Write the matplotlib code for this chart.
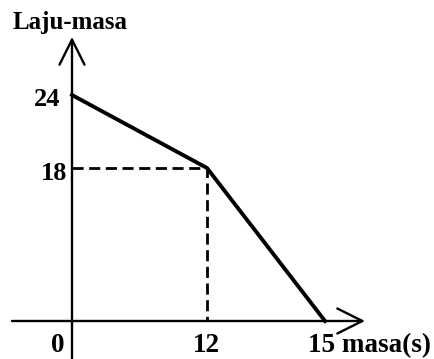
import numpy as np
import matplotlib
matplotlib.use("Agg")
import matplotlib.pyplot as plt

# values of the sketch
masa = [0, 12, 15]
laju = [24, 18, 0]
x_ticks = [0, 12, 15]
x_labels = ["0", "12", "15 masa(s)"]
y_ticks = [24, 18]
y_labels = ["24", "18"]
y_title = "Laju-masa"

# the sketch is not drawn to scale, so use piecewise linear scales
# (data value -> pixel on a 435x359 canvas)
x_knots = [-10, 0, 12, 15, 25]
x_pix = [-40.5, 72, 207, 325, 718]
y_knots = [-10, 0, 18, 24, 40]
y_pix = [-47, 38, 191, 264, 459]


def fwd_x(v):
    return np.interp(v, x_knots, x_pix)


def inv_x(p):
    return np.interp(p, x_pix, x_knots)


def fwd_y(v):
    return np.interp(v, y_knots, y_pix)


def inv_y(p):
    return np.interp(p, y_pix, y_knots)


W, H = 435, 359
font = dict(family="Liberation Serif", weight="bold", color="k")

fig = plt.figure(figsize=(W / 100, H / 100), dpi=100)
ax = fig.add_axes([0, 0, 1, 1])
ax.set_xscale("function", functions=(fwd_x, inv_x))
ax.set_yscale("function", functions=(fwd_y, inv_y))
ax.set_xlim(inv_x(0), inv_x(W))
ax.set_ylim(inv_y(0), inv_y(H))
ax.axis("off")

# axes with open arrow heads
arrow = dict(arrowstyle="->,head_length=0.9,head_width=0.45", lw=1.7, color="k",
             shrinkA=0, shrinkB=0, mutation_scale=20)
ax.annotate("", xy=(365 / W, 0), xytext=(12 / W, 0),
            xycoords=ax.get_yaxis_transform(), arrowprops=arrow)
ax.annotate("", xy=(0, (H - 37) / H), xytext=(0, 0),
            xycoords=ax.get_xaxis_transform(), arrowprops=arrow)

# guide lines to the break point
ax.plot([masa[0], masa[1], masa[1]], [laju[1], laju[1], 0], color="k", lw=2.0,
        ls=(0, (4, 2)))

# the graph
ax.plot(masa, laju, color="k", lw=2.8, solid_joinstyle="miter")

# tick labels
y_off = [(-12, -5), (-5, -5)]
for v, lab, off in zip(y_ticks, y_labels, y_off):
    ax.annotate(lab, xy=(0, v), xytext=off, textcoords="offset pixels",
                ha="right", va="center", size=19, **font)

x_off = [(-7, -25), (-1, -25), (-17, -25)]
x_ha = ["right", "center", "left"]
for v, lab, off, ha in zip(x_ticks, x_labels, x_off, x_ha):
    ax.annotate(lab, xy=(v, 0), xytext=off, textcoords="offset pixels",
                ha=ha, va="center", size=19.5, **font)

fig.text(13 / W, 1 - 23 / H, y_title, ha="left", va="center", size=18, **font)

fig.savefig("out.png", dpi=100)
